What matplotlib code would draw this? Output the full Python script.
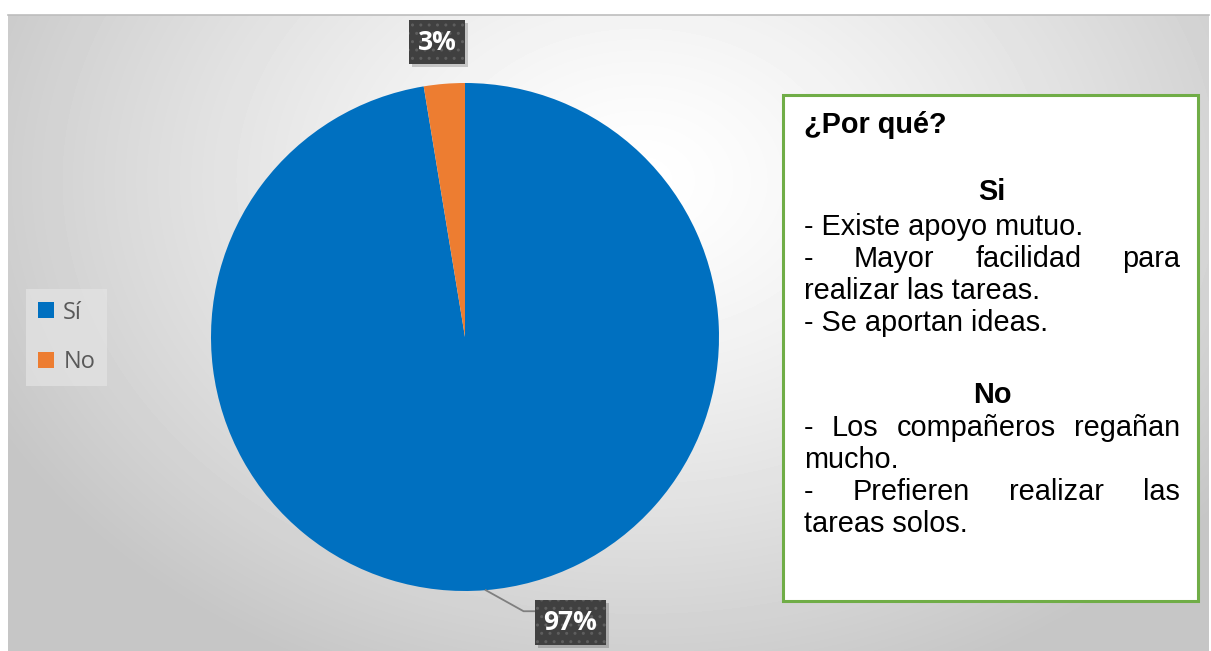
import matplotlib
matplotlib.use("Agg")
import matplotlib.pyplot as plt # to plot the data
import numpy as np
from matplotlib.patches import Rectangle
from matplotlib.lines import Line2D
from matplotlib.transforms import offset_copy

# DATA
labels = ['Sí', 'No']
values = [97.4, 2.6]
colors = ['#0070C0', '#ED7D31']

box_title = '¿Por qué?'
si_title = 'Si'
si_lines = [('- Existe apoyo mutuo.', False),
            ('- Mayor facilidad para', True),
            ('realizar las tareas.', False),
            ('- Se aportan ideas.', False)]
no_title = 'No'
no_lines = [('- Los compañeros regañan', True),
            ('mucho.', False),
            ('- Prefieren realizar las', True),
            ('tareas solos.', False)]

W, H = 1211, 651
fig = plt.figure(figsize=(W / 100, H / 100), dpi=100)
fig.patch.set_facecolor('white')

# radial grey background of the chart area
left, top, right = 8, 15, 1209
bg = fig.add_axes([left / W, 0, (right - left) / W, (H - top) / H])
bg.set_axis_off()
yy, xx = np.mgrid[top:H, left:right]
d = np.sqrt(((xx - 640) / 720.0) ** 2 + ((yy - 180) / 540.0) ** 2)
d = np.clip(d, 0, 1)
img = 1 - (1 - 198 / 255.0) * d ** 1.3
bg.imshow(img, cmap='gray', vmin=0, vmax=1, aspect='auto', interpolation='bilinear')
fig.add_artist(Line2D([left / W, right / W], [1 - top / H, 1 - top / H],
                      transform=fig.transFigure, color='#bdbdbd', lw=1.2))

# pie
R = 254
cx, cy = 465, 337
ax = fig.add_axes([(cx - R) / W, (H - cy - R) / H, 2 * R / W, 2 * R / H])
wedges, _ = ax.pie(values, colors=colors, startangle=90, counterclock=False,
                   wedgeprops=dict(linewidth=0))
ax.set_xlim(-1, 1)
ax.set_ylim(-1, 1)

lbl_font = dict(family=['Open Sans', 'DejaVu Sans'], size=19, weight='bold', color='white')
box = dict(boxstyle='square,pad=0.33', fc='#404040', ec='#5e5e5e', lw=0, hatch='..')
shadow_box = dict(boxstyle='square,pad=0.33', fc='black', ec='none', alpha=0.18)


def put_label(x, y, txt):
    sh = offset_copy(ax.transData, fig=fig, x=3, y=-3, units='dots')
    ax.text(x, y, txt, transform=sh, ha='center', va='center', bbox=shadow_box,
            alpha=0, **{k: v for k, v in lbl_font.items() if k != 'color'})
    ax.text(x, y, txt, ha='center', va='center', bbox=box, **lbl_font)


for w, v in zip(wedges, values):
    mid = np.deg2rad((w.theta1 + w.theta2) / 2)
    ux, uy = np.cos(mid), np.sin(mid)
    txt = f'{round(v)}%'
    if v < 50:
        put_label(1.17 * ux - 0.015, 1.165 * uy, txt)
    else:
        ex, ey = ux + 0.149, uy - 0.083
        ax.plot([ux, ex, ex + 0.05], [uy, ey, ey], color='#7f7f7f', lw=1.3,
                clip_on=False, zorder=1)
        put_label(ux + 0.333, uy - 0.128, txt)

# legend
fig.legend(wedges, labels, loc='center', bbox_to_anchor=(66.5 / W, 1 - 337.5 / H),
           frameon=True, fancybox=False, facecolor='#e4e4e4', edgecolor='none',
           framealpha=0.7, prop=dict(family=['Open Sans', 'DejaVu Sans'], size=17),
           labelcolor='#595959', handlelength=0.68, handleheight=0.68,
           handletextpad=0.4, labelspacing=1.1, borderpad=0.5)

# explanation box
fig.add_artist(Rectangle((783 / W, 1 - 601 / H), (1198 - 783) / W, (601 - 95) / H,
                         transform=fig.transFigure, fc='white', ec='#70AD47', lw=2.2))

tfont = dict(family=['Liberation Sans', 'DejaVu Sans'], size=20.8, color='black')
x0, x1 = 804, 1180
renderer = fig.canvas.get_renderer()


def line(txt, base, justify=False):
    y = 1 - base / H
    if not justify:
        fig.text(x0 / W, y, txt, va='baseline', ha='left', **tfont)
        return
    words = txt.split()
    ts = [fig.text(0, y, wd, va='baseline', ha='left', **tfont) for wd in words]
    widths = [t.get_window_extent(renderer).width for t in ts]
    gap = (x1 - x0 - sum(widths)) / (len(words) - 1)
    x = x0
    for t, wd in zip(ts, widths):
        t.set_x(x / W)
        x += wd + gap


fig.text(x0 / W, 1 - 133 / H, box_title, va='baseline', ha='left', weight='bold', **tfont)
fig.text((x0 + x1) / 2 / W, 1 - 200 / H, si_title, va='baseline', ha='center',
         weight='bold', **tfont)
base = 235
for txt, j in si_lines:
    line(txt, base, j)
    base += 32
fig.text((x0 + x1) / 2 / W, 1 - 403 / H, no_title, va='baseline', ha='center',
         weight='bold', **tfont)
base = 436
for txt, j in no_lines:
    line(txt, base, j)
    base += 32

fig.savefig('out.png', dpi=100)
